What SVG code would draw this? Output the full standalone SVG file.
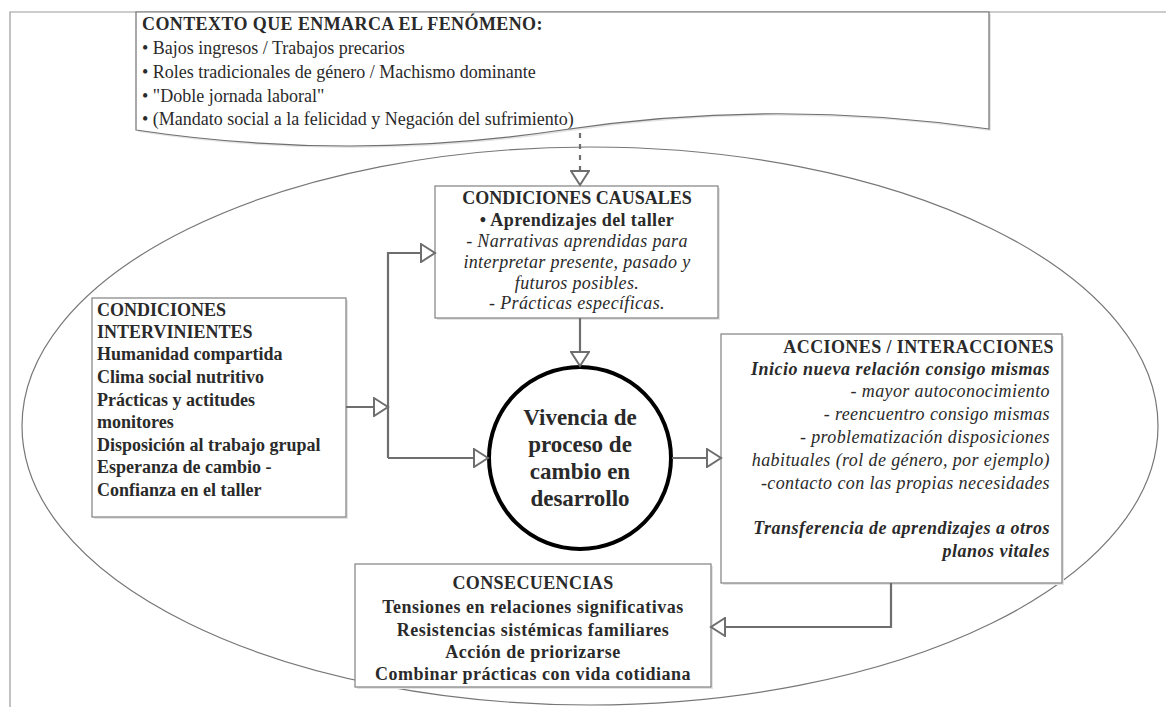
<svg xmlns="http://www.w3.org/2000/svg" width="1166" height="707" viewBox="0 0 1166 707">
<defs>
<style>
text{font-family:"Liberation Serif","Times New Roman",serif;fill:#2a2a2a;font-size:18px}
.b{font-weight:bold}
.i{font-style:italic}
.sp{letter-spacing:0.4px}
.box{fill:#fff;stroke:#808080;stroke-width:1.2}
.shadow{fill:#e4e4e4;stroke:none}
.con{fill:none;stroke:#6e6e6e;stroke-width:2.2}
.mid{text-anchor:middle}
.end{text-anchor:end}
</style>
<marker id="ah" markerUnits="userSpaceOnUse" markerWidth="18" markerHeight="20" refX="14" refY="9" orient="auto" viewBox="-1 -1 18 20">
<path d="M0,0 L14,9 L0,18 Z" fill="#fff" stroke="#6e6e6e" stroke-width="2"/>
</marker>
</defs>
<rect width="1166" height="707" fill="#fff"/>
<g id="frame">
<path d="M10,707 V12 H1166" fill="none" stroke="#9a9a9a" stroke-width="1.2"/>
</g>
<g id="scope">
<ellipse cx="590" cy="426" rx="568" ry="279" fill="none" stroke="#777" stroke-width="1.2"/>
</g>
<g id="contexto">
<path d="M138,14 H991 V131 Q777,100 564,132 T138,132 Z" class="shadow"/>
<path d="M136,12 H989 V129 Q775,98 562,130 T136,130 Z" fill="#fff" stroke="#707070" stroke-width="1.2"/>
<text x="142" y="30" class="b sp">CONTEXTO QUE ENMARCA EL FENÓMENO:</text>
<text x="142" y="54">• Bajos ingresos / Trabajos precarios</text>
<text x="142" y="78">• Roles tradicionales de género / Machismo dominante</text>
<text x="142" y="102">• "Doble jornada laboral"</text>
<text x="142" y="125">• (Mandato social a la felicidad y Negación del sufrimiento)</text>
</g>
<g id="causales">
<rect x="437" y="188" width="283" height="132" class="shadow"/>
<rect x="435" y="186" width="283" height="132" class="box"/>
<text x="577" y="204" class="b mid">CONDICIONES CAUSALES</text>
<text x="577" y="226" class="b mid sp">• Aprendizajes del taller</text>
<text x="577" y="247" class="i mid" style="letter-spacing:0.35px">- Narrativas aprendidas para</text>
<text x="577" y="268" class="i mid" style="letter-spacing:0.35px">interpretar presente, pasado y</text>
<text x="577" y="289" class="i mid" style="letter-spacing:0.35px">futuros posibles.</text>
<text x="577" y="309" class="i mid" style="letter-spacing:0.35px">- Prácticas específicas.</text>
</g>
<g id="intervinientes">
<rect x="94" y="300" width="254" height="219" class="shadow"/>
<rect x="92" y="298" width="254" height="219" class="box"/>
<text x="97" y="316" class="b">CONDICIONES</text>
<text x="97" y="338" class="b">INTERVINIENTES</text>
<text x="97" y="360" class="b">Humanidad compartida</text>
<text x="97" y="383" class="b">Clima social nutritivo</text>
<text x="97" y="406" class="b">Prácticas y actitudes</text>
<text x="97" y="428" class="b">monitores</text>
<text x="97" y="451" class="b">Disposición al trabajo grupal</text>
<text x="97" y="473" class="b">Esperanza de cambio -</text>
<text x="97" y="496" class="b">Confianza en el taller</text>
</g>
<g id="vivencia">
<circle cx="580" cy="458" r="91" fill="#fff" stroke="#000" stroke-width="4"/>
<text x="580" y="425" class="b mid" style="font-size:23px">Vivencia de</text>
<text x="580" y="452" class="b mid" style="font-size:23px">proceso de</text>
<text x="580" y="479" class="b mid" style="font-size:23px">cambio en</text>
<text x="580" y="506" class="b mid" style="font-size:23px">desarrollo</text>
</g>
<g id="acciones">
<rect x="723" y="336" width="341" height="249" class="shadow"/>
<rect x="721" y="334" width="341" height="249" class="box"/>
<text x="1054" y="353" class="b end sp">ACCIONES / INTERACCIONES</text>
<text x="1050" y="375" class="b i end" style="letter-spacing:0.5px">Inicio nueva relación consigo mismas</text>
<text x="1050" y="397" class="i end sp">- mayor autoconocimiento</text>
<text x="1050" y="420" class="i end sp">- reencuentro consigo mismas</text>
<text x="1050" y="443" class="i end sp">- problematización disposiciones</text>
<text x="1050" y="466" class="i end sp">habituales (rol de género, por ejemplo)</text>
<text x="1050" y="489" class="i end sp">-contacto con las propias necesidades</text>
<text x="1050" y="534" class="b i end" style="letter-spacing:0.5px">Transferencia de aprendizajes a otros</text>
<text x="1050" y="557" class="b i end" style="letter-spacing:0.5px">planos vitales</text>
</g>
<g id="consecuencias">
<rect x="357" y="566" width="356" height="123" class="shadow"/>
<rect x="355" y="564" width="356" height="123" class="box"/>
<text x="533" y="589" class="b mid sp">CONSECUENCIAS</text>
<text x="533" y="613" class="b mid" style="letter-spacing:0.5px">Tensiones en relaciones significativas</text>
<text x="533" y="636" class="b mid" style="letter-spacing:0.5px">Resistencias sistémicas familiares</text>
<text x="533" y="658" class="b mid" style="letter-spacing:0.5px">Acción de priorizarse</text>
<text x="533" y="680" class="b mid" style="letter-spacing:0.5px">Combinar prácticas con vida cotidiana</text>
</g>
<g id="connectors">
<path d="M580,133 V185" class="con" stroke-dasharray="5,6" marker-end="url(#ah)"/>
<path d="M580,318 V366" class="con" marker-end="url(#ah)"/>
<path d="M346,407 H388" class="con" marker-end="url(#ah)"/>
<path d="M388,458 V253 H435" class="con" marker-end="url(#ah)"/>
<path d="M388,458 H488" class="con" marker-end="url(#ah)"/>
<path d="M672,458 H721" class="con" marker-end="url(#ah)"/>
<path d="M891,583 V627 H711" class="con" marker-end="url(#ah)"/>
</g>
</svg>
